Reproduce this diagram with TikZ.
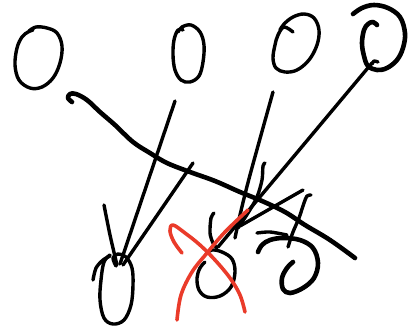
\documentclass[tikz,border=0pt]{standalone}
\definecolor{inkred}{RGB}{234,59,42}
\begin{document}
\begin{tikzpicture}[x=0.5pt,y=-0.5pt,
  pen/.style={line width=1.7pt,line cap=round,line join=round,black},
  boldpen/.style={pen,line width=2.3pt},
  redpen/.style={pen,line width=1.8pt,inkred}]
\useasboundingbox (0,0) rectangle (409,328);
% top ovals
\draw[pen] plot[smooth,tension=0.6] coordinates {(33,30) (28,32) (22,37) (17,48) (15,65) (19,80) (30,88) (42,87) (53,78) (60,63) (62,46) (57,33) (47,28) (36,27) (29,31)};
\draw[pen] plot[smooth,tension=0.6] coordinates {(183,30) (178,30) (174,40) (173,55) (175,70) (181,80) (190,82) (199,76) (203,62) (204,45) (200,32) (191,25) (182,27) (178,32)};
\draw[pen] plot[smooth,tension=0.6] coordinates {(293,32) (284,27) (278,35) (275,45) (273,58) (276,68) (285,72) (297,70) (309,60) (317,45) (319,30) (314,18) (304,14) (293,17) (284,24) (280,30)};
\draw[boldpen] plot[smooth,tension=0.6] coordinates {(353,14) (362,8) (374,5) (388,8) (400,17) (405,33) (403,48) (397,60) (387,68) (377,70) (368,66) (364,56) (362,43) (364,30) (368,24) (373,22) (377,25)};
\draw[pen] plot[smooth] coordinates {(378,62) (374,61) (372,64)};
% long curve
\draw[boldpen] plot[smooth,tension=0.6] coordinates {(72,102) (68,98) (70,94) (76,94) (87,100) (100,112) (115,125) (133,142) (150,153) (167,163) (190,172) (215,181) (240,192) (262,201) (285,212) (305,225) (330,240) (355,258)};
% lines into bottom-left oval
\draw[pen] plot[smooth] coordinates {(104,205) (110,235) (117,265)};
\draw[pen] (175,101) -- (120,264);
\draw[pen] (193,163) -- (123,265);
\draw[pen] plot[smooth,tension=0.6] coordinates {(110,255) (104,262) (101,280) (100,300) (104,318) (113,324) (124,320) (131,305) (133,285) (132,268) (126,257) (118,254) (113,258) (116,266)};
\draw[pen] plot[smooth] coordinates {(93,280) (96,268) (103,260) (110,256)};
% lines into middle
\draw[pen] plot[smooth] coordinates {(273,92) (250,175) (240,215) (235,238)};
\draw[pen] (372,63) -- (218,247);
\draw[pen] plot[smooth] coordinates {(265,163) (263,166) (262,180) (257,197) (248,213) (238,228)};
\draw[pen] (303,190) -- (240,226);
\draw[pen] plot[smooth] coordinates {(214,213) (211,218) (210,233) (213,243) (217,248)};
\draw[pen] plot[smooth,tension=0.6] coordinates {(205,262) (200,268) (197,278) (199,290) (207,297) (220,296) (231,287) (235,272) (232,259) (222,252) (212,250) (206,254)};
% right bottom glyph
\draw[pen] plot[smooth] coordinates {(311,195) (307,196) (304,203) (299,218) (293,232) (288,247)};
\draw[pen] plot[smooth] coordinates {(257,233) (270,232) (287,235)};
\draw[boldpen] plot[smooth,tension=0.6] coordinates {(258,252) (262,245) (270,240) (283,238) (300,240) (313,248) (318,263) (314,278) (303,288) (290,293) (283,289) (282,278) (287,268) (293,262)};
% red cross
\draw[redpen] plot[smooth,tension=0.6] coordinates {(182,253) (174,242) (170,231) (173,225) (185,233) (200,245) (215,260) (230,278) (240,295) (245,312)};
\draw[redpen] plot[smooth,tension=0.6] coordinates {(248,210) (225,232) (207,253) (192,272) (181,295) (177,320)};
\end{tikzpicture}
\end{document}
